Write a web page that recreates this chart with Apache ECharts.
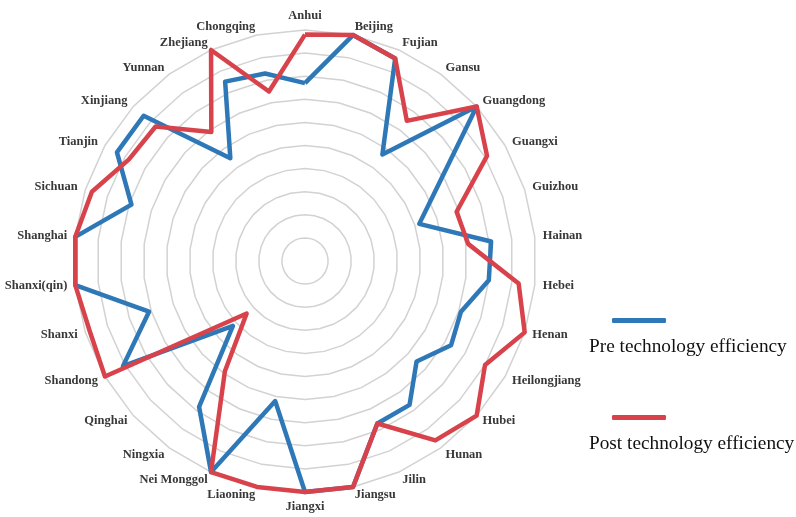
<!DOCTYPE html>
<html>
<head>
<meta charset="utf-8">
<script src="https://cdn.jsdelivr.net/npm/echarts@6/dist/echarts.min.js"></script>
<style>
  html, body { margin: 0; padding: 0; background: #fff; }
  #main { width: 796px; height: 517px; }
</style>
</head>
<body>
<div id="main"></div>
<script>
// provinces, clockwise from the top
var provinces = ['Anhui', 'Beijing', 'Fujian', 'Gansu', 'Guangdong', 'Guangxi', 'Guizhou', 'Hainan',
  'Hebei', 'Henan', 'Heilongjiang', 'Hubei', 'Hunan', 'Jilin', 'Jiangsu', 'Jiangxi', 'Liaoning',
  'Nei Monggol', 'Ningxia', 'Qinghai', 'Shandong', 'Shanxi', 'Shanxi(qin)', 'Shanghai', 'Sichuan',
  'Tianjin', 'Xinjiang', 'Yunnan', 'Zhejiang', 'Chongqing'];
var preEff = [0.77, 1.0, 0.96, 0.57, 1.0, 0.67, 0.52, 0.81, 0.80, 0.71, 0.73, 0.65, 0.77, 0.77, 1.0,
  1.0, 0.62, 1.0, 0.78, 0.42, 0.91, 0.71, 1.0, 1.0, 0.79, 0.94, 0.94, 0.55, 0.85, 0.83];
var postEff = [0.98, 1.0, 0.96, 0.75, 1.0, 0.91, 0.69, 0.71, 0.93, 1.0, 0.90, 1.0, 0.96, 0.77, 1.0,
  1.0, 1.0, 1.0, 0.59, 0.34, 1.0, 0.98, 1.0, 1.0, 0.97, 0.88, 0.87, 0.69, 1.0, 0.75];
var seriesNames = ['Pre technology efficiency', 'Post technology efficiency'];
var colors = ['#2e78b7', '#d8434b'];

// echarts lays radar axes out counter-clockwise, so keep the first one and flip the rest
function cw(arr) {
  return [arr[0]].concat(arr.slice(1).reverse());
}

// excel-style legend: the line sits above its label
var legendTops = [318, 415];
var legends = seriesNames.map(function (n, i) {
  return {
    data: [n],
    left: 612,
    top: legendTops[i],
    itemWidth: 54,
    itemHeight: 5,
    icon: 'roundRect',
    padding: 0,
    formatter: function () { return ''; }
  };
});
var legendTexts = seriesNames.map(function (n, i) {
  return {
    type: 'text',
    left: 589,
    top: legendTops[i] + 19,
    style: { text: n, fontFamily: 'Liberation Serif', fontSize: 19.3, fill: '#111' }
  };
});

var chart = echarts.init(document.getElementById('main'));
var option = {
  backgroundColor: '#fff',
  animation: false,
  color: colors,
  legend: legends,
  graphic: legendTexts,
  radar: {
    center: [305, 261],
    radius: 231,
    startAngle: 90,
    shape: 'polygon',
    splitNumber: 10,
    indicator: cw(provinces).map(function (p) { return { name: p, min: 0, max: 1 }; }),
    axisName: {
      color: '#383838',
      fontFamily: 'Liberation Serif',
      fontWeight: 'bold',
      fontSize: 12.5
    },
    nameGap: 8,
    axisLine: { show: false },
    axisTick: { show: false },
    axisLabel: { show: false },
    splitArea: { show: false },
    splitLine: { lineStyle: { color: '#d2d2d2', width: 1.5 } }
  },
  series: [{
    type: 'radar',
    symbol: 'none',
    data: [
      { name: seriesNames[0], value: cw(preEff), lineStyle: { color: colors[0], width: 4.5 }, itemStyle: { color: colors[0] } },
      { name: seriesNames[1], value: cw(postEff), lineStyle: { color: colors[1], width: 4.5 }, itemStyle: { color: colors[1] } }
    ]
  }]
};
chart.setOption(option);
</script>
</body>
</html>
